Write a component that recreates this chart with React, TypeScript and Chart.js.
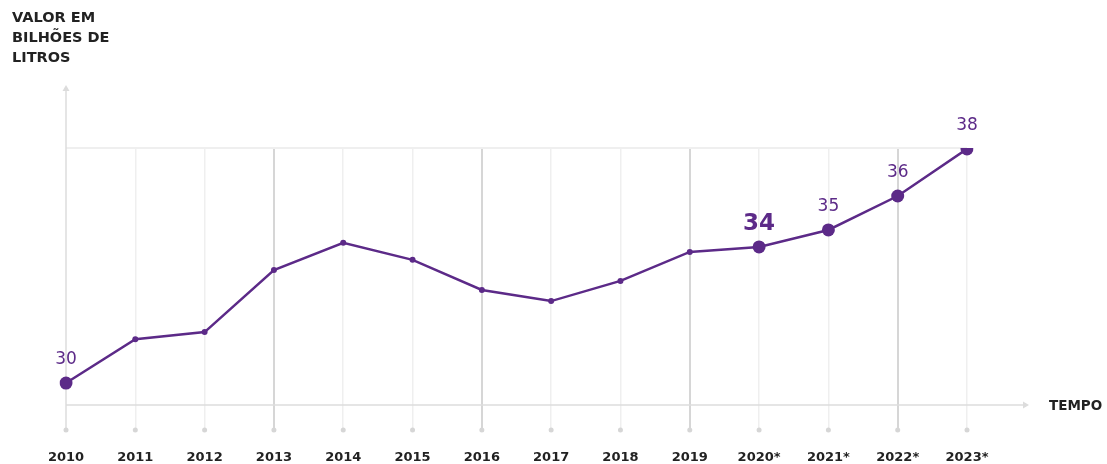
import React, { useEffect, useRef } from "react";
import { Chart, registerables } from "chart.js";

Chart.register(...registerables);

const years = ["2010", "2011", "2012", "2013", "2014", "2015", "2016", "2017", "2018", "2019", "2020", "2021", "2022", "2023"];
const tickLabels = ["2010", "2011", "2012", "2013", "2014", "2015", "2016", "2017", "2018", "2019", "2020*", "2021*", "2022*", "2023*"];
const values = [30, 31.5, 31.74, 33.86, 34.79, 34.21, 33.18, 32.8, 33.49, 34.48, 34.65, 35.23, 36.39, 38];
const pointLabels = ["30", "", "", "", "", "", "", "", "", "", "34", "35", "36", "38"];
const boldLabels = [false, false, false, false, false, false, false, false, false, false, true, false, false, false];
const bigPoints = [true, false, false, false, false, false, false, false, false, false, true, true, true, true];
const yTitle = ["VALOR EM", "BILHÕES DE", "LITROS"];
const xTitle = "TEMPO";

const PURPLE = "#5c2a88";
const AXIS = "#dcdcdc";
const GRID_LIGHT = "#efefef";
const GRID_DARK = "#d6d6d6";
const TEXT = "#222222";
const FONT = "'DejaVu Sans', sans-serif";

const decor = {
  id: "decor",
  beforeDatasetsDraw(chart: any) {
    const { ctx, chartArea } = chart;
    const xs = chart.scales.x;
    ctx.save();
    // top horizontal line
    ctx.strokeStyle = GRID_LIGHT;
    ctx.lineWidth = 2;
    ctx.beginPath();
    ctx.moveTo(chartArea.left, chartArea.top);
    ctx.lineTo(chartArea.right, chartArea.top);
    ctx.stroke();
    // x axis with arrow
    const axisEnd = 1029;
    ctx.strokeStyle = AXIS;
    ctx.lineWidth = 1.5;
    ctx.beginPath();
    ctx.moveTo(chartArea.left, chartArea.bottom);
    ctx.lineTo(axisEnd - 2, chartArea.bottom);
    ctx.stroke();
    ctx.fillStyle = AXIS;
    ctx.beginPath();
    ctx.moveTo(axisEnd, chartArea.bottom);
    ctx.lineTo(axisEnd - 6, chartArea.bottom - 3.5);
    ctx.lineTo(axisEnd - 6, chartArea.bottom + 3.5);
    ctx.closePath();
    ctx.fill();
    // y axis with arrow
    const yTop = 85;
    const x0 = xs.getPixelForValue(0);
    ctx.beginPath();
    ctx.moveTo(x0, chartArea.bottom + 25);
    ctx.lineTo(x0, yTop + 2);
    ctx.stroke();
    ctx.beginPath();
    ctx.moveTo(x0, yTop);
    ctx.lineTo(x0 - 3.5, yTop + 6);
    ctx.lineTo(x0 + 3.5, yTop + 6);
    ctx.closePath();
    ctx.fill();
    // tick dots
    ctx.fillStyle = "#d6d6d6";
    for (let i = 0; i < years.length; i++) {
      const x = xs.getPixelForValue(i);
      ctx.beginPath();
      ctx.arc(x, chartArea.bottom + 25, 2.5, 0, Math.PI * 2);
      ctx.fill();
    }
    ctx.restore();
  },
  afterDatasetsDraw(chart: any) {
    const { ctx, chartArea } = chart;
    const meta = chart.getDatasetMeta(0);
    ctx.save();
    ctx.fillStyle = PURPLE;
    ctx.textAlign = "center";
    ctx.textBaseline = "middle";
    meta.data.forEach((pt: any, i: number) => {
      const label = pointLabels[i];
      if (!label) return;
      if (boldLabels[i]) {
        ctx.font = `bold 23px ${FONT}`;
        ctx.fillText(label, pt.x, pt.y - 23);
      } else {
        ctx.font = `17px ${FONT}`;
        ctx.fillText(label, pt.x, pt.y - 23);
      }
    });
    // titles
    ctx.fillStyle = TEXT;
    ctx.textAlign = "left";
    ctx.textBaseline = "alphabetic";
    ctx.font = `bold 14.5px ${FONT}`;
    yTitle.forEach((line, i) => ctx.fillText(line, 12, 22 + i * 20));
    ctx.font = `bold 13.5px ${FONT}`;
    ctx.fillText(xTitle, 1049, chartArea.bottom + 5);
    ctx.restore();
  },
};

export default function App() {
  const ref = useRef<HTMLCanvasElement | null>(null);
  useEffect(() => {
    if (!ref.current) return;
    const chart = new Chart(ref.current, {
      type: "line",
      data: {
        labels: tickLabels,
        datasets: [
          {
            data: values,
            borderColor: PURPLE,
            backgroundColor: PURPLE,
            borderWidth: 2.5,
            pointRadius: bigPoints.map((b) => (b ? 6.5 : 3)),
            pointHoverRadius: bigPoints.map((b) => (b ? 6.5 : 3)),
            pointBackgroundColor: PURPLE,
            pointBorderWidth: 0,
            tension: 0,
          },
        ],
      },
      options: {
        animation: false,
        responsive: true,
        maintainAspectRatio: false,
        layout: { padding: { left: 66, right: 140, top: 148, bottom: -21 } },
        plugins: { legend: { display: false }, tooltip: { enabled: false } },
        scales: {
          x: {
            type: "category",
            offset: false,
            border: { display: false },
            grid: {
              display: true,
              drawOnChartArea: true,
              drawTicks: true,
              tickLength: 25,
              color: (c: any) => (c.index === 0 ? "rgba(0,0,0,0)" : c.index % 3 === 0 ? GRID_DARK : GRID_LIGHT),
              tickColor: (c: any) => (c.index === 0 ? "rgba(0,0,0,0)" : c.index % 3 === 0 ? GRID_DARK : GRID_LIGHT),
              lineWidth: (c: any) => (c.index % 3 === 0 ? 2 : 1.5),
            },
            ticks: {
              color: TEXT,
              padding: 21,
              maxRotation: 0,
              autoSkip: false,
              font: { family: FONT, size: 13, weight: "bold", lineHeight: 1 },
            },
          },
          y: {
            display: false,
            min: 29.25,
            max: 38.03,
          },
        },
      },
      plugins: [decor],
    });
    return () => chart.destroy();
  }, []);
  return (
    <div style={{ position: "fixed", left: 0, top: 0, width: 1107, height: 464, background: "#fff" }}>
      <canvas ref={ref} />
    </div>
  );
}
